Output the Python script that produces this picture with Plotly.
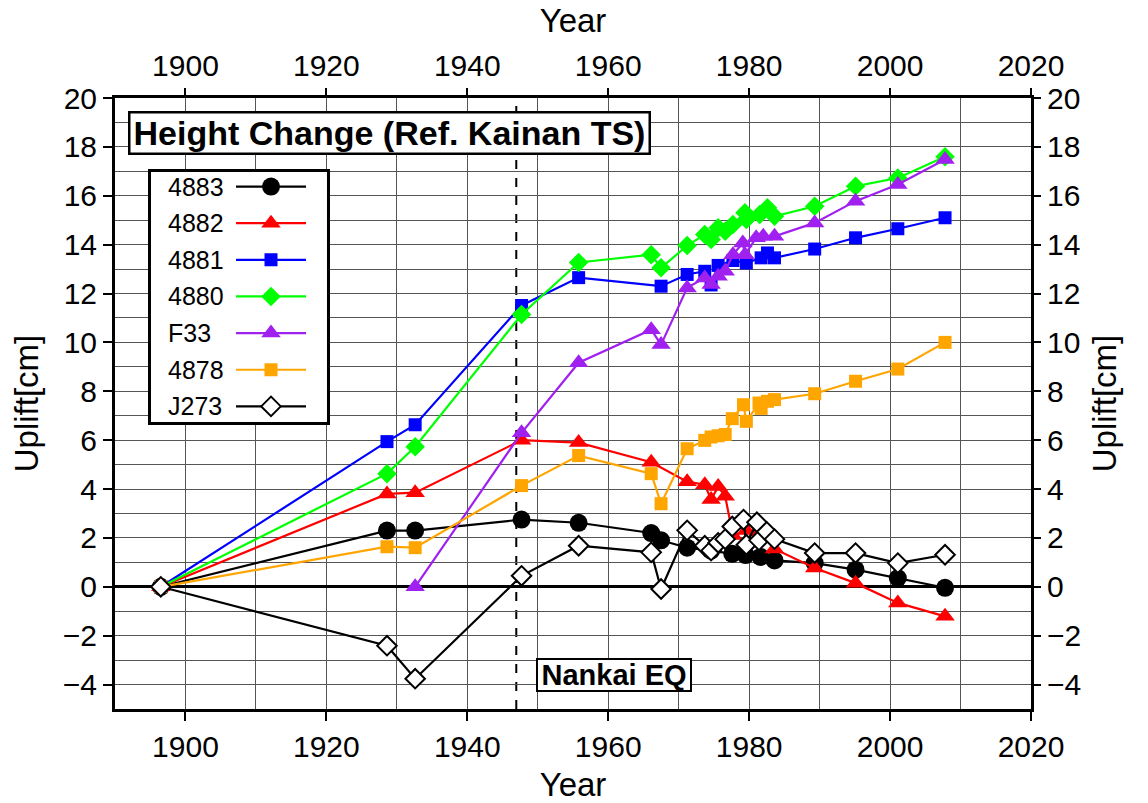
import plotly.graph_objects as go

# ---------------- data ----------------
names = ["4883", "4882", "4881", "4880", "F33", "4878", "J273"]

yr_4883 = [1896.5, 1928.6, 1932.6, 1947.7, 1955.8, 1966.1, 1967.5, 1971.2, 1974.6,
           1977.6, 1979.5, 1981.6, 1983.6, 1989.3, 1995.1, 2001.1, 2007.8]
up_4883 = [0, 2.30, 2.30, 2.75, 2.62, 2.20, 1.90, 1.60, 1.48,
           1.35, 1.30, 1.22, 1.08, 0.97, 0.70, 0.36, -0.04]

yr_4882 = [1896.5, 1928.6, 1932.6, 1947.7, 1955.8, 1966.1, 1971.2, 1973.7, 1974.6,
           1975.6, 1976.6, 1977.7, 1979.6, 1981.4, 1983.6, 1989.3, 1995.1, 2001.1, 2007.8]
up_4882 = [0, 3.80, 3.85, 6.00, 5.90, 5.10, 4.30, 4.18, 3.57,
           4.10, 3.70, 2.10, 2.30, 2.25, 1.55, 0.77, 0.15, -0.66, -1.21]

yr_4881 = [1896.5, 1928.6, 1932.6, 1947.7, 1955.8, 1967.5, 1971.2, 1973.7, 1974.6,
           1975.6, 1977.7, 1979.6, 1981.7, 1982.6, 1983.6, 1989.3, 1995.1, 2001.1, 2007.8]
up_4881 = [0, 5.94, 6.63, 11.51, 12.65, 12.30, 12.78, 12.91, 12.35,
           13.15, 13.35, 13.25, 13.46, 13.66, 13.46, 13.82, 14.28, 14.65, 15.10]

yr_4880 = [1896.5, 1928.6, 1932.6, 1947.7, 1955.8, 1966.1, 1967.5, 1971.2, 1973.7,
           1974.6, 1975.6, 1976.6, 1977.7, 1979.4, 1979.6, 1981.5, 1982.6, 1983.6,
           1989.3, 1995.1, 2001.1, 2007.8]
up_4880 = [0, 4.63, 5.73, 11.14, 13.27, 13.59, 13.05, 13.96, 14.41,
           14.21, 14.69, 14.55, 14.82, 15.30, 15.03, 15.23, 15.51, 15.16,
           15.57, 16.39, 16.73, 17.60]

yr_F33 = [1932.6, 1947.7, 1955.8, 1966.1, 1967.5, 1971.2, 1973.7, 1974.6, 1975.6,
          1976.6, 1977.7, 1979.1, 1979.4, 1981.0, 1982.0, 1983.6, 1989.3, 1995.1,
          2001.1, 2007.8]
up_F33 = [0, 6.30, 9.17, 10.52, 9.91, 12.23, 12.64, 12.37, 12.71,
          12.91, 13.59, 14.07, 13.59, 14.28, 14.34, 14.34, 14.89, 15.78,
          16.46, 17.48]

yr_4878 = [1896.5, 1928.6, 1932.6, 1947.7, 1955.8, 1966.1, 1967.5, 1971.2, 1973.7,
           1974.6, 1975.6, 1976.6, 1977.6, 1979.2, 1979.6, 1981.4, 1981.7, 1982.6,
           1983.6, 1989.3, 1995.1, 2001.1, 2007.8]
up_4878 = [0, 1.64, 1.60, 4.14, 5.37, 4.63, 3.40, 5.65, 5.99,
           6.13, 6.18, 6.23, 6.88, 7.45, 6.77, 7.52, 7.30, 7.59,
           7.66, 7.90, 8.41, 8.91, 10.00]

yr_J273 = [1896.5, 1928.6, 1932.6, 1947.7, 1955.8, 1966.1, 1967.5, 1971.2, 1973.7,
           1974.6, 1975.6, 1976.6, 1977.6, 1979.2, 1979.6, 1981.1, 1981.4, 1982.5,
           1983.6, 1989.3, 1995.1, 2001.1, 2007.8]
up_J273 = [0, -2.41, -3.76, 0.45, 1.68, 1.41, -0.09, 2.31, 1.68,
           1.48, 1.80, 1.95, 2.47, 2.75, 1.72, 2.64, 1.90, 2.25,
           1.95, 1.38, 1.38, 0.97, 1.31]

nankai_year = 1946.95
x_ticks = [1900, 1920, 1940, 1960, 1980, 2000, 2020]
y_ticks = list(range(-4, 21, 2))

# ---------------- styles ----------------
years = [yr_4883, yr_4882, yr_4881, yr_4880, yr_F33, yr_4878, yr_J273]
uplifts = [up_4883, up_4882, up_4881, up_4880, up_F33, up_4878, up_J273]
colors = ["#000000", "#ff0000", "#0000ff", "#00ff00", "#a020f0", "#ffa500", "#000000"]
symbols = ["circle", "triangle-up", "square", "diamond", "triangle-up", "square", "diamond"]
msizes = [18, 17, 13, 15, 17, 13, 15]
FONT = "Liberation Sans, Arial, Helvetica, sans-serif"

fig = go.Figure()

def marker_style(i):
    if names[i] == "J273":
        return dict(symbol=symbols[i], size=msizes[i], color="white",
                    line=dict(color="black", width=2))
    return dict(symbol=symbols[i], size=msizes[i], color=colors[i], line=dict(width=0))

for i in range(len(names)):
    fig.add_trace(go.Scatter(
        x=years[i], y=uplifts[i], mode="lines+markers", name=names[i],
        line=dict(color=colors[i], width=2.2), marker=marker_style(i),
        showlegend=False, xaxis="x", yaxis="y"))

# invisible trace so the mirrored (top / right) axes are drawn
fig.add_trace(go.Scatter(x=[1950], y=[0], mode="markers", marker=dict(opacity=0),
                         showlegend=False, hoverinfo="skip", xaxis="x2", yaxis="y2"))

# ---------------- manual legend (its own small subplot) ----------------
leg_top, leg_step = 0.94, 0.146
for i in range(len(names)):
    yy = leg_top - i * leg_step
    fig.add_trace(go.Scatter(x=[0.483, 0.881], y=[yy, yy], mode="lines",
                             line=dict(color=colors[i], width=2.2),
                             showlegend=False, hoverinfo="skip", xaxis="x3", yaxis="y3"))
    fig.add_trace(go.Scatter(x=[0.682], y=[yy], mode="markers", marker=marker_style(i),
                             showlegend=False, hoverinfo="skip", xaxis="x3", yaxis="y3"))
    fig.add_annotation(x=0.085, y=yy, xref="x3", yref="y3", text=names[i],
                       showarrow=False, xanchor="left", yanchor="middle",
                       font=dict(family=FONT, size=25, color="black"))

# ---------------- annotations ----------------
fig.add_annotation(x=0.2995, y=0.9419, xref="paper", yref="paper",
                   text="<b>Height Change (Ref. Kainan TS)</b>", showarrow=False,
                   font=dict(family=FONT, size=34, color="black"),
                   bgcolor="white", bordercolor="black", borderwidth=2.5, borderpad=0,
                   width=518, height=39, xanchor="center", yanchor="middle")
fig.add_annotation(x=0.5453, y=0.0561, xref="paper", yref="paper",
                   text="<b>Nankai EQ</b>", showarrow=False,
                   font=dict(family=FONT, size=29, color="black"),
                   bgcolor="white", bordercolor="black", borderwidth=2, borderpad=0,
                   width=152, height=30, xanchor="center", yanchor="middle")

fig.add_shape(type="line", x0=nankai_year, x1=nankai_year, y0=0, y1=1,
              xref="x", yref="paper", line=dict(color="black", width=2, dash="dash"),
              layer="below")

# ---------------- axes ----------------
grid_col = "#555555"
common_x = dict(range=[1890, 2020], tickvals=x_ticks, ticks="outside", ticklen=9,
                tickwidth=1.5, tickcolor="black", automargin=False,
                tickfont=dict(family=FONT, size=30, color="black"))
common_y = dict(range=[-5, 20], tickvals=y_ticks, ticks="outside", ticklen=9,
                tickwidth=1.5, tickcolor="black", automargin=False,
                tickfont=dict(family=FONT, size=30, color="black"))

fig.update_layout(
    width=1148, height=803,
    margin=dict(l=115, r=117, t=98, b=94, pad=0),
    paper_bgcolor="white", plot_bgcolor="white",
    font=dict(family=FONT, color="black"),
    xaxis=dict(**common_x, showline=True, linewidth=3, linecolor="black", mirror=True,
               showgrid=True, gridcolor=grid_col, gridwidth=1, zeroline=False,
               minor=dict(dtick=10, tick0=1890, showgrid=True, gridcolor=grid_col,
                          gridwidth=1, ticks=""),
               title=dict(text="Year", font=dict(family=FONT, size=33), standoff=13),
               anchor="y", domain=[0, 1]),
    yaxis=dict(**common_y, showline=True, linewidth=3, linecolor="black", mirror=True,
               showgrid=True, gridcolor=grid_col, gridwidth=1,
               zeroline=True, zerolinecolor="black", zerolinewidth=2.5,
               minor=dict(dtick=1, tick0=0, showgrid=True, gridcolor=grid_col,
                          gridwidth=1, ticks=""),
               title=dict(text="Uplift[cm]", font=dict(family=FONT, size=33), standoff=15),
               anchor="x", domain=[0, 1]),
    xaxis2=dict(**common_x, overlaying="x", side="top", anchor="y2", showline=False,
                showgrid=False, zeroline=False,
                title=dict(text="Year", font=dict(family=FONT, size=33), standoff=6)),
    yaxis2=dict(**common_y, overlaying="y", side="right", anchor="x2", showline=False,
                showgrid=False, zeroline=False,
                title=dict(text="Uplift[cm]", font=dict(family=FONT, size=33), standoff=12)),
    xaxis3=dict(domain=[0.0393, 0.2314], range=[0, 1], anchor="y3", showgrid=False,
                zeroline=False, showticklabels=False, ticks="", showline=True,
                linewidth=2.5, linecolor="black", mirror=True, fixedrange=True),
    yaxis3=dict(domain=[0.469, 0.8797], range=[0, 1], anchor="x3", showgrid=False,
                zeroline=False, showticklabels=False, ticks="", showline=True,
                linewidth=2.5, linecolor="black", mirror=True, fixedrange=True),
)

fig.write_html("out.html")
